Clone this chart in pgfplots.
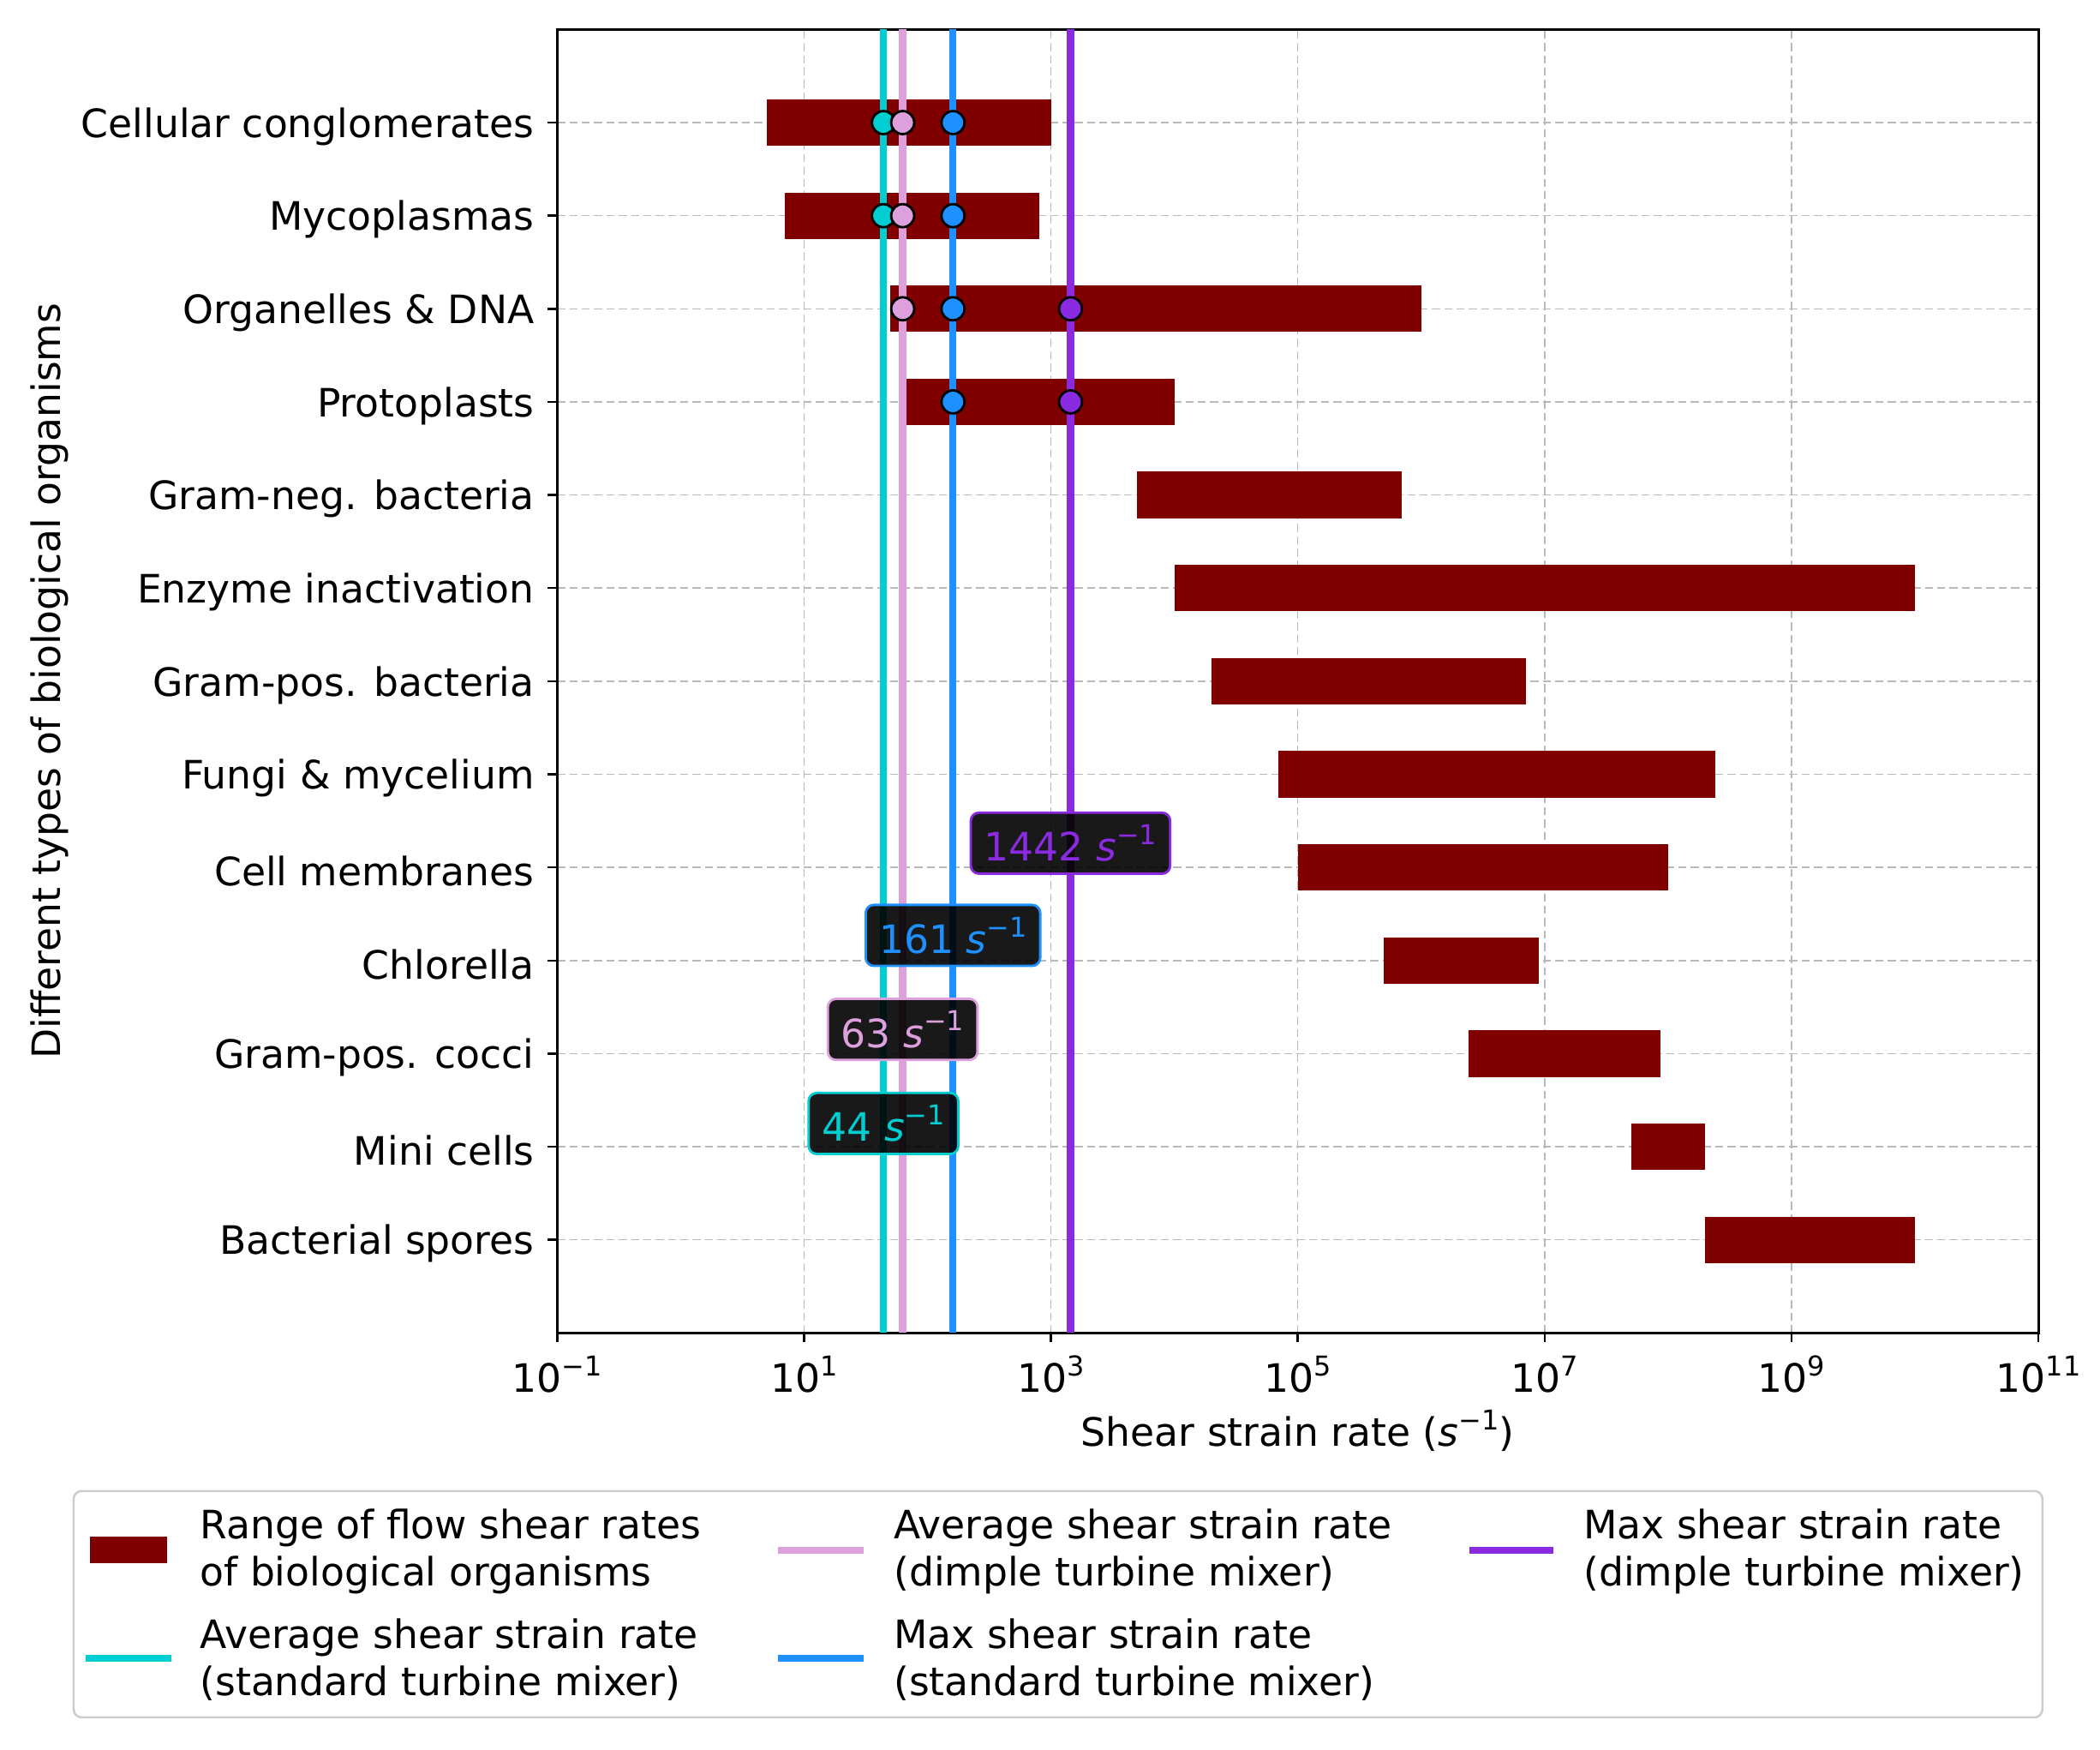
\documentclass[border=0pt]{standalone}
\usepackage{fontspec}
\setmainfont{DejaVu Sans}
\usepackage{pgfplots}
\pgfplotsset{compat=1.18}
\definecolor{barred}{HTML}{800000}
\definecolor{cturq}{HTML}{00CED1}
\definecolor{cplum}{HTML}{DDA0DD}
\definecolor{cdodger}{HTML}{1E90FF}
\definecolor{cviolet}{HTML}{8A2BE2}
\newcommand\sups[1]{\raisebox{0.42em}{\fontsize{10.2}{12}\selectfont #1}}
\newcommand\fs{\fontsize{14.6}{17.5}\selectfont}
\begin{document}
\begin{tikzpicture}
\fs
\begin{axis}[
  at={(208pt,-11pt)}, anchor=north west,
  width=553pt, height=486.5pt, scale only axis,
  xmode=log, xmin=1e-1, xmax=1e11,
  ymin=-1, ymax=13,
  xtick={1e-1,1e1,1e3,1e5,1e7,1e9,1e11},
  xticklabels={10\sups{−1},10\sups{1},10\sups{3},10\sups{5},10\sups{7},10\sups{9},10\sups{11}},
  minor xtick={},
  ytick={0,1,...,12},
  yticklabels={Bacterial spores,Mini cells,Gram-pos. cocci,Chlorella,Cell membranes,Fungi \& mycelium,Gram-pos. bacteria,Enzyme inactivation,Gram-neg. bacteria,Protoplasts,Organelles \& DNA,Mycoplasmas,Cellular conglomerates},
  tick align=outside, tick pos=left, major tick length=3.5pt,
  tick style={black, line width=0.8pt},
  axis line style={line width=0.9pt},
  grid=major,
  grid style={gray!55, line width=0.5pt, dash pattern=on 3pt off 1.6pt},
  ticklabel style={font=\fs},
  yticklabel style={yshift=-1.5pt},
  label style={font=\fs},
  xlabel={Shear strain rate (\textit{s}\sups{−1})},
  ylabel={Different types of biological organisms},
  xlabel style={at={(axis description cs:0.5,-0.075)}, anchor=center},
  ylabel style={at={(axis description cs:-0.3427,0.5)}, anchor=center},
]
\pgfplotsset{barr/.style={fill=barred, draw=none, forget plot}}
\addplot[barr] coordinates {(5,11.75) (1000,11.75) (1000,12.25) (5,12.25)};
\addplot[barr] coordinates {(7,10.75) (800,10.75) (800,11.25) (7,11.25)};
\addplot[barr] coordinates {(50,9.75) (1e6,9.75) (1e6,10.25) (50,10.25)};
\addplot[barr] coordinates {(68,8.75) (1e4,8.75) (1e4,9.25) (68,9.25)};
\addplot[barr] coordinates {(5000,7.75) (7e5,7.75) (7e5,8.25) (5000,8.25)};
\addplot[barr] coordinates {(1e4,6.75) (1e10,6.75) (1e10,7.25) (1e4,7.25)};
\addplot[barr] coordinates {(2e4,5.75) (7e6,5.75) (7e6,6.25) (2e4,6.25)};
\addplot[barr] coordinates {(7e4,4.75) (2.4e8,4.75) (2.4e8,5.25) (7e4,5.25)};
\addplot[barr] coordinates {(1e5,3.75) (1e8,3.75) (1e8,4.25) (1e5,4.25)};
\addplot[barr] coordinates {(5e5,2.75) (9e6,2.75) (9e6,3.25) (5e5,3.25)};
\addplot[barr] coordinates {(2.4e6,1.75) (8.7e7,1.75) (8.7e7,2.25) (2.4e6,2.25)};
\addplot[barr] coordinates {(5e7,0.75) (2e8,0.75) (2e8,1.25) (5e7,1.25)};
\addplot[barr] coordinates {(2e8,-0.25) (1e10,-0.25) (1e10,0.25) (2e8,0.25)};

\addplot[cturq, line width=2.6pt, forget plot] coordinates {(44,-1) (44,13)};
\addplot[cplum, line width=2.6pt, forget plot] coordinates {(63,-1) (63,13)};
\addplot[cdodger, line width=2.6pt, forget plot] coordinates {(161,-1) (161,13)};
\addplot[cviolet, line width=2.6pt, forget plot] coordinates {(1442,-1) (1442,13)};

\addplot[only marks, mark=*, mark size=4.3pt, mark options={fill=cturq, draw=black, line width=0.9pt}, forget plot] coordinates {(44,12) (44,11)};
\addplot[only marks, mark=*, mark size=4.3pt, mark options={fill=cplum, draw=black, line width=0.9pt}, forget plot] coordinates {(63,12) (63,11) (63,10)};
\addplot[only marks, mark=*, mark size=4.3pt, mark options={fill=cdodger, draw=black, line width=0.9pt}, forget plot] coordinates {(161,12) (161,11) (161,10) (161,9)};
\addplot[only marks, mark=*, mark size=4.3pt, mark options={fill=cviolet, draw=black, line width=0.9pt}, forget plot] coordinates {(1442,10) (1442,9)};

\tikzset{vbox/.style={fill=black, fill opacity=0.9, text opacity=1, rounded corners=3pt, line width=0.9pt, inner xsep=5pt, inner ysep=4.5pt, font=\fs}}
\node[vbox, draw=cviolet, text=cviolet] at (axis cs:1442,4.26) {1442 \textit{s}\sups{−1}};
\node[vbox, draw=cdodger, text=cdodger] at (axis cs:161,3.27) {161 \textit{s}\sups{−1}};
\node[vbox, draw=cplum, text=cplum] at (axis cs:63,2.26) {63 \textit{s}\sups{−1}};
\node[vbox, draw=cturq, text=cturq] at (axis cs:44,1.25) {44 \textit{s}\sups{−1}};
\end{axis}
% legend
\draw[gray!40, line width=0.8pt, rounded corners=3pt, fill=white] (27.5pt,-556.5pt) rectangle (762.5pt,-641pt);
\fill[barred] (33.5pt,-573.5pt) rectangle (62.5pt,-583.5pt);
\draw[cplum, line width=2.6pt] (290.5pt,-578.5pt) -- (322.5pt,-578.5pt);
\draw[cviolet, line width=2.6pt] (548.5pt,-578.5pt) -- (580pt,-578.5pt);
\draw[cturq, line width=2.6pt] (32pt,-619pt) -- (64pt,-619pt);
\draw[cdodger, line width=2.6pt] (290.5pt,-619pt) -- (322.5pt,-619pt);
\tikzset{lt/.style={anchor=west, align=left, inner sep=0pt, font=\fs}}
\node[lt] at (74.5pt,-579pt) {Range of flow shear rates\\of biological organisms};
\node[lt] at (333.5pt,-579pt) {Average shear strain rate\\(dimple turbine mixer)};
\node[lt] at (591pt,-579pt) {Max shear strain rate\\(dimple turbine mixer)};
\node[lt] at (74.5pt,-619.5pt) {Average shear strain rate\\(standard turbine mixer)};
\node[lt] at (333.5pt,-619.5pt) {Max shear strain rate\\(standard turbine mixer)};
\pgfresetboundingbox
\path (0,0) rectangle (784pt,-653pt);
\end{tikzpicture}
\end{document}
